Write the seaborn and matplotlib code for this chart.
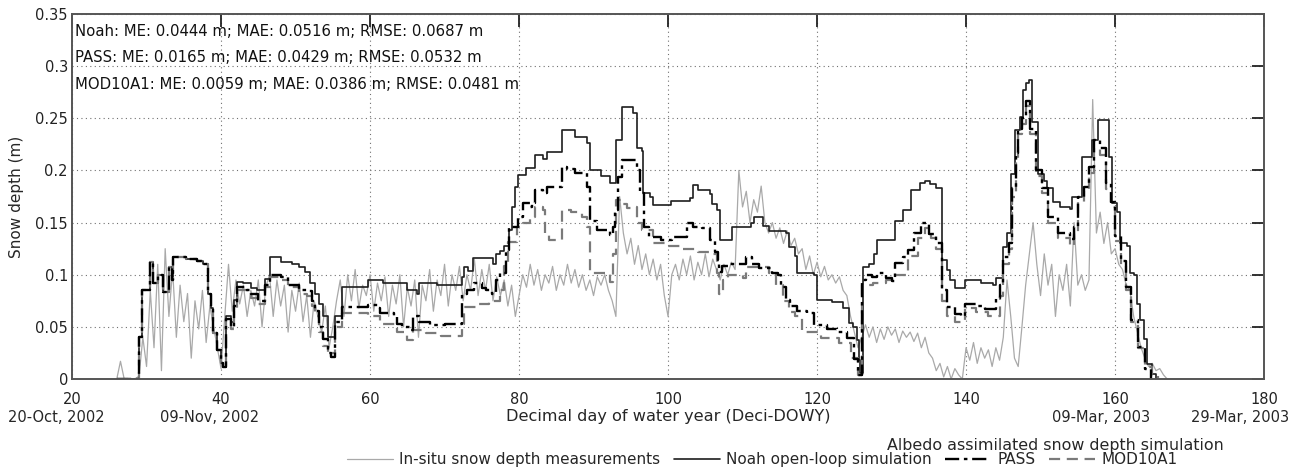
"""
Snow depth: in-situ vs Noah open-loop vs albedo-assimilated runs (PASS, MOD10A1)
"""
import numpy as np
import pandas as pd
import matplotlib
matplotlib.use("Agg")
import matplotlib.pyplot as plt
import seaborn as sns

sns.set_theme(style="white")
plt.rcParams["font.family"] = ["DejaVu Sans"]

# ========== data ==========
# in-situ, every half day from day 26.0 to 167.0
insitu_day = np.arange(26.0, 167.01, 0.5)
insitu_depth = [
    0.000, 0.017, 0.000, 0.000, 0.000, 0.000, 0.003, 0.040, 0.012, 0.085,
    0.030, 0.110, 0.008, 0.125, 0.060, 0.105, 0.040, 0.090, 0.055, 0.082,
    0.020, 0.075, 0.048, 0.085, 0.035, 0.070, 0.050, 0.030, 0.010, 0.060,
    0.110, 0.065, 0.095, 0.072, 0.090, 0.060, 0.085, 0.070, 0.095, 0.050,
    0.088, 0.100, 0.060, 0.095, 0.070, 0.090, 0.045, 0.085, 0.065, 0.092,
    0.055, 0.080, 0.040, 0.075, 0.060, 0.045, 0.070, 0.030, 0.050, 0.075,
    0.095, 0.060, 0.100, 0.075, 0.105, 0.068, 0.090, 0.080, 0.100, 0.065,
    0.092, 0.075, 0.098, 0.060, 0.090, 0.072, 0.100, 0.050, 0.088, 0.070,
    0.095, 0.040, 0.090, 0.075, 0.105, 0.065, 0.095, 0.080, 0.110, 0.070,
    0.100, 0.085, 0.108, 0.075, 0.100, 0.085, 0.115, 0.080, 0.105, 0.085,
    0.110, 0.075, 0.098, 0.080, 0.095, 0.070, 0.090, 0.060, 0.080, 0.100,
    0.088, 0.110, 0.090, 0.105, 0.085, 0.100, 0.092, 0.108, 0.085, 0.100,
    0.090, 0.110, 0.092, 0.105, 0.088, 0.100, 0.085, 0.095, 0.080, 0.098,
    0.090, 0.100, 0.085, 0.075, 0.060, 0.175, 0.140, 0.120, 0.135, 0.110,
    0.128, 0.105, 0.120, 0.100, 0.115, 0.095, 0.110, 0.080, 0.060, 0.100,
    0.110, 0.095, 0.115, 0.100, 0.118, 0.095, 0.112, 0.100, 0.120, 0.098,
    0.115, 0.105, 0.095, 0.110, 0.100, 0.112, 0.105, 0.200, 0.165, 0.180,
    0.150, 0.172, 0.160, 0.185, 0.150, 0.140, 0.150, 0.135, 0.145, 0.130,
    0.142, 0.128, 0.135, 0.120, 0.125, 0.105, 0.118, 0.100, 0.112, 0.098,
    0.108, 0.095, 0.100, 0.092, 0.098, 0.085, 0.080, 0.060, 0.045, 0.030,
    0.040, 0.052, 0.040, 0.050, 0.035, 0.048, 0.038, 0.050, 0.042, 0.048,
    0.035, 0.046, 0.040, 0.045, 0.036, 0.044, 0.030, 0.040, 0.025, 0.020,
    0.008, 0.015, 0.002, 0.012, 0.000, 0.010, 0.004, 0.000, 0.030, 0.018,
    0.035, 0.015, 0.030, 0.020, 0.028, 0.012, 0.030, 0.018, 0.040, 0.095,
    0.060, 0.020, 0.012, 0.050, 0.090, 0.120, 0.150, 0.110, 0.080, 0.120,
    0.090, 0.110, 0.060, 0.100, 0.085, 0.110, 0.070, 0.150, 0.090, 0.100,
    0.085, 0.095, 0.268, 0.140, 0.160, 0.130, 0.150, 0.120, 0.125, 0.110,
    0.105, 0.090, 0.085, 0.060, 0.045, 0.030, 0.020, 0.012, 0.015, 0.008,
    0.010, 0.004, 0.000,
]

# Noah open-loop (step change points)
noah_day = [
    26.0, 29.0, 29.4, 30.4, 30.9, 31.5, 32.2, 33.0, 33.4, 33.6, 35.3, 36.8, 37.6,
    38.3, 38.6, 38.9, 39.5, 40.0, 40.2, 40.6, 41.4, 41.8, 42.2, 43.0, 44.0, 44.8,
    45.9, 46.6, 48.0, 49.5, 50.5, 51.3, 52.0, 52.6, 53.2, 53.7, 54.4, 55.3, 56.2,
    59.7, 61.8, 65.0, 66.3, 66.6, 69.0, 72.3, 72.6, 73.2, 73.8, 76.5, 76.9, 77.4,
    78.0, 78.7, 79.1, 79.5, 79.9, 81.0, 82.1, 83.2, 83.7, 85.8, 87.5, 89.1, 89.5,
    91.0, 92.2, 93.0, 93.8, 95.3, 95.8, 96.5, 96.7, 97.6, 98.0, 100.2, 100.4,
    102.9, 103.3, 104.0, 105.6, 105.9, 106.6, 107.0, 108.0, 108.6, 111.2, 111.6,
    112.8, 113.6, 115.8, 116.2, 117.0, 117.3, 119.6, 120.0, 122.0, 123.5, 124.3,
    124.8, 125.3, 125.6, 125.8, 126.2, 127.0, 127.6, 128.0, 130.5, 131.6, 132.6,
    133.8, 134.5, 135.2, 136.0, 136.8, 137.5, 137.8, 138.5, 139.9, 142.0, 143.6,
    144.0, 145.0, 145.5, 146.0, 146.6, 147.2, 147.6, 148.1, 148.5, 148.8, 149.6,
    150.4, 150.9, 151.7, 152.6, 154.0, 154.2, 155.3, 155.6, 156.6, 156.9, 157.7,
    158.8, 159.2, 159.6, 160.3, 160.7, 161.6, 162.0, 162.6, 163.0, 163.4, 163.9,
    164.3, 165.0, 165.5,
]
noah_depth = [
    0.000, 0.040, 0.085, 0.112, 0.092, 0.100, 0.083, 0.107, 0.095, 0.117, 0.115, 0.113, 0.110,
    0.082, 0.068, 0.044, 0.028, 0.015, 0.012, 0.060, 0.055, 0.076, 0.093, 0.092, 0.087, 0.085,
    0.096, 0.117, 0.112, 0.110, 0.107, 0.103, 0.092, 0.082, 0.072, 0.060, 0.040, 0.060, 0.088,
    0.095, 0.092, 0.085, 0.082, 0.092, 0.090, 0.098, 0.107, 0.104, 0.116, 0.110, 0.120, 0.123,
    0.128, 0.143, 0.165, 0.184, 0.196, 0.202, 0.215, 0.211, 0.218, 0.239, 0.232, 0.226, 0.200,
    0.195, 0.188, 0.229, 0.261, 0.255, 0.222, 0.219, 0.178, 0.175, 0.167, 0.167, 0.171,
    0.174, 0.186, 0.181, 0.177, 0.168, 0.162, 0.133, 0.133, 0.146, 0.150, 0.155,
    0.147, 0.142, 0.140, 0.127, 0.118, 0.102, 0.100, 0.076, 0.074, 0.068, 0.054,
    0.050, 0.037, 0.018, 0.006, 0.107, 0.110, 0.120, 0.133, 0.152, 0.162, 0.181,
    0.188, 0.190, 0.187, 0.183, 0.114, 0.105, 0.095, 0.087, 0.095, 0.092, 0.090,
    0.097, 0.127, 0.140, 0.197, 0.239, 0.251, 0.277, 0.284, 0.287, 0.246, 0.197,
    0.190, 0.183, 0.170, 0.165, 0.163, 0.175, 0.175, 0.213, 0.213, 0.229, 0.248,
    0.248, 0.213, 0.169, 0.160, 0.130, 0.128, 0.102, 0.100, 0.072, 0.057, 0.038,
    0.014, 0.005, 0.000,
]

# PASS albedo assimilation
pass_day = [
    26.0, 29.0, 29.4, 30.4, 30.9, 31.5, 32.2, 33.0, 33.4, 33.6, 35.3, 36.8, 37.6,
    38.3, 38.6, 38.9, 39.5, 40.0, 40.2, 40.6, 41.4, 41.8, 42.2, 43.5, 44.0, 45.0,
    45.9, 46.6, 48.0, 49.0, 50.5, 51.5, 52.2, 52.6, 53.2, 53.7, 54.3, 54.8, 55.3,
    56.2, 59.7, 61.0, 61.4, 63.2, 63.6, 64.3, 65.4, 65.8, 66.6, 68.0, 70.0, 72.4,
    73.0, 74.0, 75.0, 75.5, 76.4, 76.9, 77.5, 78.2, 78.7, 79.9, 80.5, 81.5, 81.7,
    82.1, 83.2, 83.7, 85.8, 86.5, 87.5, 89.1, 89.5, 90.5, 92.2, 92.6, 92.9, 93.3,
    93.8, 95.8, 96.2, 96.8, 97.5, 99.0, 100.5, 102.0, 102.5, 103.4, 104.6, 105.6,
    106.3, 106.7, 106.9, 107.2, 108.0, 110.0, 110.5, 111.3, 112.2, 113.9, 114.8,
    115.2, 115.8, 116.4, 117.3, 118.6, 119.6, 121.4, 122.7, 124.0, 124.9, 125.5,
    126.0, 126.6, 127.4, 128.0, 129.2, 130.0, 130.5, 131.6, 132.2, 133.0, 134.0,
    135.0, 136.0, 136.8, 137.5, 138.5, 139.3, 139.9, 141.4, 142.6, 144.0, 144.6,
    145.0, 145.8, 146.2, 146.7, 147.0, 147.5, 148.0, 148.6, 149.4, 150.2, 151.0,
    152.3, 154.0, 154.5, 155.0, 155.8, 156.5, 157.2, 158.0, 158.8, 159.4, 160.0,
    160.8, 161.5, 162.2, 163.1, 164.0, 164.8,
]
pass_depth = [
    0.000, 0.040, 0.085, 0.112, 0.092, 0.100, 0.083, 0.107, 0.095, 0.117, 0.115, 0.113, 0.110,
    0.082, 0.068, 0.044, 0.028, 0.015, 0.012, 0.058, 0.050, 0.070, 0.088, 0.085, 0.082, 0.075,
    0.090, 0.100, 0.098, 0.090, 0.085, 0.084, 0.075, 0.065, 0.050, 0.038, 0.025, 0.021, 0.055,
    0.069, 0.071, 0.068, 0.063, 0.060, 0.053, 0.050, 0.047, 0.060, 0.055, 0.052, 0.053, 0.082,
    0.085, 0.092, 0.087, 0.085, 0.082, 0.095, 0.102, 0.124, 0.146, 0.155, 0.169, 0.165, 0.169,
    0.181, 0.178, 0.184, 0.203, 0.201, 0.198, 0.184, 0.152, 0.143, 0.138, 0.146, 0.162, 0.194,
    0.210, 0.200, 0.178, 0.146, 0.136, 0.133, 0.136, 0.136, 0.150, 0.146, 0.145, 0.133,
    0.122, 0.114, 0.103, 0.108, 0.110, 0.110, 0.117, 0.110, 0.106, 0.102, 0.100,
    0.088, 0.076, 0.070, 0.065, 0.063, 0.052, 0.048, 0.045, 0.039, 0.019, 0.004,
    0.095, 0.100, 0.098, 0.102, 0.097, 0.094, 0.111, 0.117, 0.124, 0.140, 0.150,
    0.139, 0.130, 0.085, 0.069, 0.062, 0.060, 0.072, 0.070, 0.067, 0.078, 0.090,
    0.117, 0.130, 0.183, 0.217, 0.240, 0.250, 0.267, 0.240, 0.200, 0.183, 0.155,
    0.140, 0.134, 0.146, 0.175, 0.184, 0.203, 0.229, 0.222, 0.188, 0.170, 0.137,
    0.113, 0.088, 0.057, 0.031, 0.010, 0.000,
]

# MOD10A1 albedo assimilation
mod_day = [
    26.0, 29.0, 29.4, 30.4, 30.9, 31.5, 32.2, 33.0, 33.4, 33.6, 35.3, 36.8, 37.6,
    38.3, 38.6, 38.9, 39.5, 40.0, 40.2, 40.6, 41.4, 41.8, 42.2, 43.5, 44.0, 45.0,
    45.9, 46.6, 48.0, 49.0, 50.5, 51.5, 52.2, 52.6, 53.2, 53.7, 54.3, 54.8, 55.3,
    56.2, 59.7, 61.4, 63.6, 65.0, 65.8, 67.5, 69.5, 72.4, 72.6, 74.5, 76.0, 77.4,
    78.0, 78.5, 79.7, 80.5, 81.5, 82.1, 83.2, 83.5, 84.0, 85.8, 87.0, 88.5, 89.1,
    89.5, 92.2, 92.6, 93.0, 94.0, 94.5, 95.5, 95.8, 96.5, 98.0, 100.0, 102.0,
    104.0, 106.0, 106.6, 106.8, 107.4, 108.0, 110.0, 110.5, 113.6, 114.5, 115.4,
    116.2, 117.0, 118.0, 120.5, 123.0, 124.5, 125.5, 126.0, 127.5, 129.2, 130.5,
    132.2, 133.5, 134.5, 135.3, 136.0, 136.8, 137.5, 138.5, 139.9, 141.4, 143.0,
    144.6, 145.0, 145.8, 146.2, 146.7, 147.0, 147.5, 148.0, 148.6, 149.4, 150.2,
    151.0, 152.3, 154.0, 154.5, 155.0, 155.8, 156.5, 157.2, 158.0, 158.8, 159.4,
    160.0, 160.8, 161.5, 162.2, 163.1, 164.0, 165.0, 165.8,
]
mod_depth = [
    0.000, 0.040, 0.085, 0.112, 0.092, 0.100, 0.083, 0.107, 0.095, 0.117, 0.115, 0.113, 0.110,
    0.082, 0.068, 0.044, 0.028, 0.015, 0.012, 0.058, 0.048, 0.068, 0.085, 0.082, 0.078, 0.072,
    0.088, 0.098, 0.095, 0.088, 0.082, 0.080, 0.070, 0.060, 0.045, 0.032, 0.022, 0.025, 0.050,
    0.063, 0.060, 0.053, 0.045, 0.037, 0.047, 0.044, 0.041, 0.053, 0.069, 0.072, 0.075, 0.085,
    0.108, 0.131, 0.146, 0.150, 0.155, 0.165, 0.162, 0.140, 0.133, 0.162, 0.160, 0.155, 0.146,
    0.102, 0.093, 0.120, 0.172, 0.168, 0.164, 0.165, 0.150, 0.143, 0.130, 0.128, 0.125,
    0.122, 0.120, 0.102, 0.082, 0.095, 0.100, 0.097, 0.107, 0.102, 0.090, 0.075,
    0.064, 0.060, 0.045, 0.039, 0.035, 0.020, 0.004, 0.090, 0.092, 0.095, 0.100,
    0.118, 0.135, 0.145, 0.135, 0.125, 0.075, 0.060, 0.055, 0.068, 0.064, 0.060,
    0.080, 0.110, 0.125, 0.175, 0.212, 0.235, 0.245, 0.262, 0.235, 0.195, 0.178,
    0.150, 0.135, 0.128, 0.140, 0.170, 0.180, 0.198, 0.222, 0.215, 0.182, 0.165,
    0.132, 0.108, 0.085, 0.055, 0.030, 0.012, 0.004, 0.000,
]

stats_lines = [
    "Noah: ME: 0.0444 m; MAE: 0.0516 m; RMSE: 0.0687 m",
    "PASS: ME: 0.0165 m; MAE: 0.0429 m; RMSE: 0.0532 m",
    "MOD10A1: ME: 0.0059 m; MAE: 0.0386 m; RMSE: 0.0481 m",
]
stats_y = [0.333, 0.308, 0.282]

date_labels = ["20-Oct, 2002", "09-Nov, 2002", "09-Mar, 2003", "29-Mar, 2003"]
date_x = [17.9, 38.4, 158.1, 176.8]

legend_labels = ["In-situ snow depth measurements", "Noah open-loop simulation",
                 "PASS", "MOD10A1"]

# ========== plot ==========
fig = plt.figure(figsize=(13.03, 4.71), dpi=100)
ax = fig.add_axes([0.0553, 0.1953, 0.9148, 0.7749])

insitu = pd.DataFrame({"day": insitu_day, "depth": insitu_depth})
noah = pd.DataFrame({"day": noah_day, "depth": noah_depth})
pas = pd.DataFrame({"day": pass_day, "depth": pass_depth})
mod = pd.DataFrame({"day": mod_day, "depth": mod_depth})

sns.lineplot(data=insitu, x="day", y="depth", ax=ax, color="#a9a9a9", lw=0.9,
             estimator=None, sort=False, legend=False)
sns.lineplot(data=noah, x="day", y="depth", ax=ax, color="#1e1e1e", lw=1.2,
             drawstyle="steps-post", estimator=None, sort=False, legend=False)
sns.lineplot(data=mod, x="day", y="depth", ax=ax, color="#7a7a7a", lw=1.6,
             linestyle=(0, (5, 3)), drawstyle="steps-post", estimator=None,
             sort=False, legend=False)
sns.lineplot(data=pas, x="day", y="depth", ax=ax, color="#000000", lw=1.7,
             linestyle=(0, (6, 2, 1.5, 2)), drawstyle="steps-post", estimator=None,
             sort=False, legend=False)

ax.set_xlim(20, 180)
ax.set_ylim(0, 0.35)
ax.set_xticks(range(20, 181, 20))
ax.set_yticks([0, 0.05, 0.1, 0.15, 0.2, 0.25, 0.3, 0.35])
ax.set_yticklabels(["0", "0.05", "0.1", "0.15", "0.2", "0.25", "0.3", "0.35"])
ax.grid(True, linestyle=(0, (1, 3)), color="#707070", lw=0.8)
ax.tick_params(direction="in", length=9, width=1.3, top=True, right=True,
               labelsize=10.5, colors="#222222", pad=3)
ax.tick_params(axis="x", pad=9)
for sp in ax.spines.values():
    sp.set_visible(True)
    sp.set_color("#555555")
    sp.set_linewidth(1.4)

ax.set_ylabel("Snow depth (m)", fontsize=11, labelpad=8)
ax.set_xlabel("Decimal day of water year (Deci-DOWY)", fontsize=11.6, labelpad=2)

for s, yy in zip(stats_lines, stats_y):
    ax.text(20.4, yy, s, fontsize=10.7, va="center", ha="left", color="#111111")

for lab, xx in zip(date_labels, date_x):
    ax.text(xx, -0.105, lab, transform=ax.get_xaxis_transform(), fontsize=10.5,
            ha="center", va="center")

lines = ax.get_lines()
handles = [lines[0], lines[1], lines[3], lines[2]]
fig.legend(handles, legend_labels, loc="center", bbox_to_anchor=(0.585, 0.024),
           ncol=4, frameon=False, fontsize=11, handlelength=3.0,
           columnspacing=0.9, handletextpad=0.4, borderpad=0)
fig.text(0.81, 0.055, "Albedo assimilated snow depth simulation", fontsize=11.4,
         ha="center", va="center")

plt.savefig("out.png", dpi=100)
plt.close()
